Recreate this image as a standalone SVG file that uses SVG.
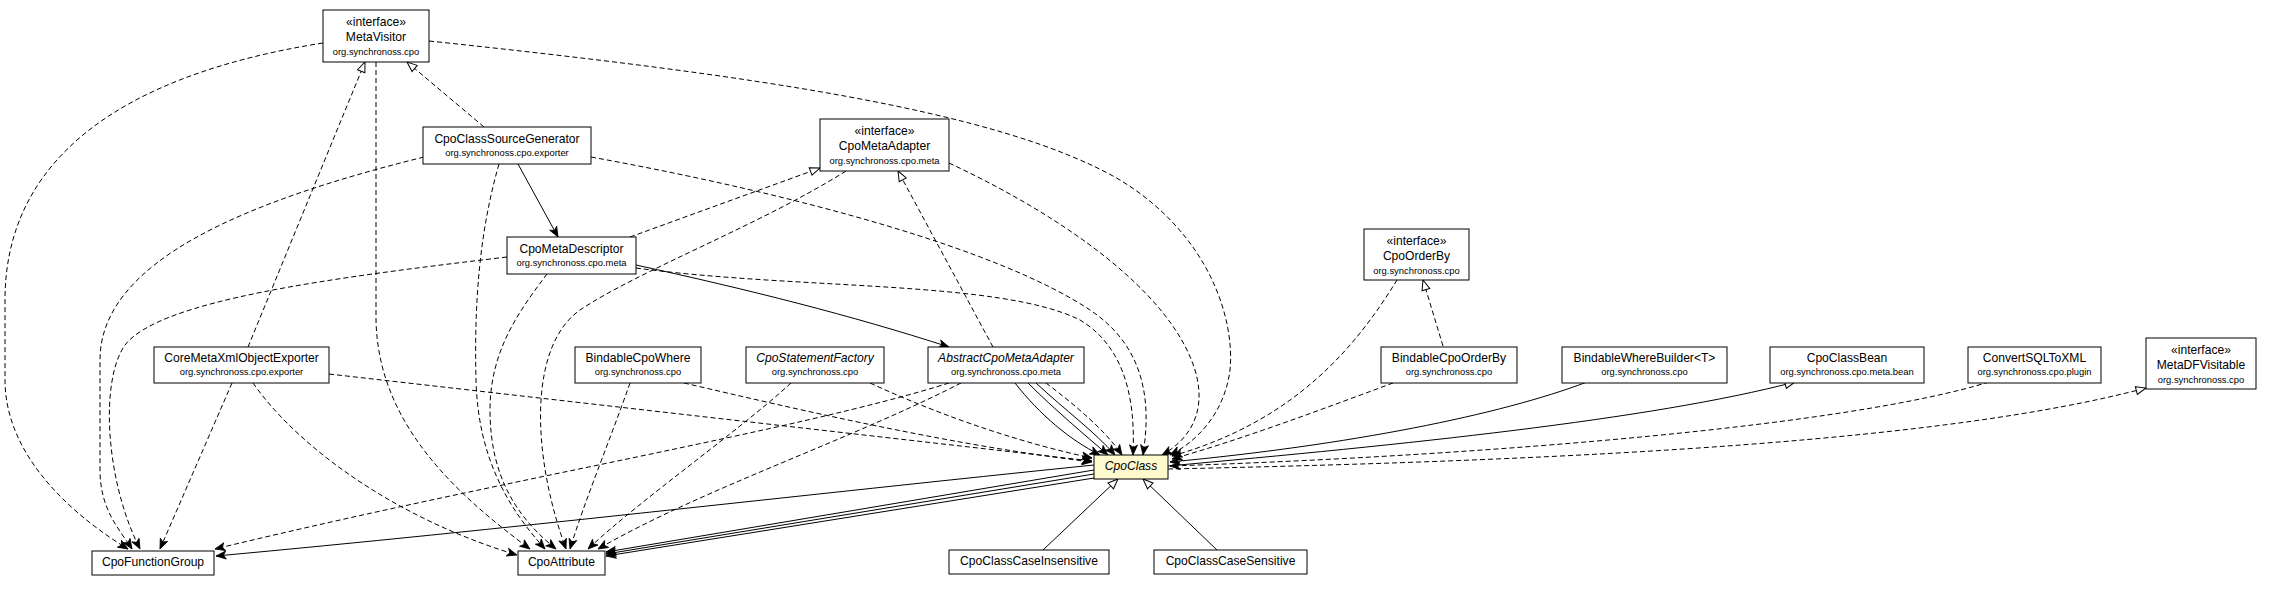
<svg xmlns="http://www.w3.org/2000/svg" width="2272" height="592" viewBox="0 0 2272 592">
<style>
.box{fill:#fff;stroke:#000;stroke-width:1}
.ctx{fill:#fffacd}
text{font-family:"Liberation Sans",Arial,Helvetica,sans-serif;text-anchor:middle;fill:#000}
.n{font-size:12.1px}
.p{font-size:9.4px}
.i{font-style:italic}
.e{fill:none;stroke:#000;stroke-width:1}
.d{stroke-dasharray:5,3}
.v{marker-end:url(#vee)}
.t{marker-end:url(#tri)}
</style>
<defs>
<marker id="vee" markerUnits="userSpaceOnUse" markerWidth="12" markerHeight="10" refX="10" refY="4" orient="auto" overflow="visible">
<path d="M0,0 L10,4 L0,8 L2.5,4 Z" fill="#000" stroke="#000" stroke-width="0.8" stroke-dasharray="none"/>
</marker>
<marker id="tri" markerUnits="userSpaceOnUse" markerWidth="12" markerHeight="10" refX="10" refY="4" orient="auto" overflow="visible">
<path d="M0,0 L10,4 L0,8 Z" fill="#fff" stroke="#000" stroke-width="1" stroke-dasharray="none"/>
</marker>
</defs>
<rect width="2272" height="592" fill="#fff"/>
<g id="edges">
<!-- MetaVisitor dependencies -->
<path class="e d v" d="M323,43 C120,75 5,160 5,300 L5,380 C5,460 80,520 128,549"/>
<path class="e d v" d="M376,62 L376,320 C378,420 450,490 530,549"/>
<path class="e d v" d="M429,41 C750,75 1000,110 1120,180 C1210,235 1235,320 1230,370 C1225,410 1200,440 1170,455"/>
<!-- CpoClassSourceGenerator -->
<path class="e d t" d="M484,127 L407,62"/>
<path class="e v" d="M518,164 L558,237"/>
<path class="e d v" d="M424,157 C250,200 100,260 100,360 L100,470 C100,510 120,530 132,549"/>
<path class="e d v" d="M499,164 C480,230 474,300 476,380 C478,460 510,510 545,549"/>
<path class="e d v" d="M591,157 C800,195 1000,250 1090,310 C1150,350 1150,410 1143,455"/>
<!-- CpoMetaDescriptor -->
<path class="e d t" d="M630,237 L820,168"/>
<path class="e v" d="M636,265 C750,290 850,315 949,347"/>
<path class="e d v" d="M507,257 C330,278 160,300 125,345 C100,380 105,480 140,549"/>
<path class="e d v" d="M547,274 C520,310 490,350 490,410 C490,480 520,520 556,549"/>
<path class="e d v" d="M636,268 C800,290 1000,280 1080,320 C1130,350 1135,410 1133,455"/>
<!-- CpoMetaAdapter -->
<path class="e d v" d="M846,171 C760,225 640,270 580,310 C530,345 530,450 566,549"/>
<path class="e d v" d="M949,163 C1060,215 1170,290 1195,370 C1210,420 1180,445 1162,455"/>
<!-- CoreMetaXmlObjectExporter -->
<path class="e d t" d="M248,347 L365,62"/>
<path class="e d v" d="M232,383 L160,549"/>
<path class="e d v" d="M253,383 C300,450 400,520 517,555"/>
<path class="e d v" d="M329,374 L1092,461"/>
<!-- BindableCpoWhere -->
<path class="e d v" d="M630,383 C610,440 585,500 570,549"/>
<path class="e d v" d="M684,383 C800,410 950,445 1092,462"/>
<!-- CpoStatementFactory -->
<path class="e d v" d="M791,383 C740,430 640,500 588,549"/>
<path class="e d v" d="M870,383 C950,420 1030,445 1092,458"/>
<!-- AbstractCpoMetaAdapter -->
<path class="e d t" d="M993,347 L898,171"/>
<path class="e v" d="M1015,383 C1040,415 1070,440 1100,455"/>
<path class="e v" d="M1028,383 C1055,410 1085,435 1108,455"/>
<path class="e v" d="M1036,383 C1065,410 1095,432 1115,455"/>
<path class="e d v" d="M1046,383 C1075,405 1105,430 1122,455"/>
<path class="e d v" d="M949,383 C800,430 500,480 215,549"/>
<path class="e d v" d="M961,383 C850,440 700,490 598,549"/>
<!-- CpoClass outgoing -->
<path class="e v" d="M1094,465 C800,495 500,530 216,556"/>
<path class="e v" d="M1094,470 L606,552"/>
<path class="e v" d="M1094,474 L606,554"/>
<path class="e v" d="M1094,478 L606,556"/>
<path class="e t" d="M1168,466 C1400,445 1650,420 1795,382"/>
<path class="e d t" d="M1168,469 C1600,460 1950,440 2146,388"/>
<!-- subclasses -->
<path class="e t" d="M1043,550 L1118,479"/>
<path class="e t" d="M1217,550 L1143,479"/>
<!-- right side -->
<path class="e d v" d="M1397,280 C1360,340 1300,420 1172,456"/>
<path class="e d t" d="M1443,346 L1423,280"/>
<path class="e d v" d="M1393,383 C1320,410 1240,440 1172,459"/>
<path class="e v" d="M1587,382 C1500,415 1350,445 1170,462"/>
<path class="e d v" d="M1989,382 C1850,425 1500,455 1170,466"/>
</g>
<g id="MetaVisitor">
<rect class="box" x="323" y="10" width="106" height="52"/>
<text class="n" x="376" y="25.5">«interface»</text>
<text class="n" x="376" y="41">MetaVisitor</text>
<text class="p" x="376" y="54.5">org.synchronoss.cpo</text>
</g>
<g id="CpoClassSourceGenerator">
<rect class="box" x="423" y="127" width="168" height="37"/>
<text class="n" x="507" y="142.5">CpoClassSourceGenerator</text>
<text class="p" x="507" y="155.5">org.synchronoss.cpo.exporter</text>
</g>
<g id="CpoMetaAdapter">
<rect class="box" x="820" y="119" width="129" height="52"/>
<text class="n" x="884.5" y="134.5">«interface»</text>
<text class="n" x="884.5" y="150">CpoMetaAdapter</text>
<text class="p" x="884.5" y="163.5">org.synchronoss.cpo.meta</text>
</g>
<g id="CpoMetaDescriptor">
<rect class="box" x="507" y="237" width="129" height="37"/>
<text class="n" x="571.5" y="252.5">CpoMetaDescriptor</text>
<text class="p" x="571.5" y="265.5">org.synchronoss.cpo.meta</text>
</g>
<g id="CpoOrderBy">
<rect class="box" x="1364" y="229" width="105" height="51"/>
<text class="n" x="1416.5" y="244.5">«interface»</text>
<text class="n" x="1416.5" y="260">CpoOrderBy</text>
<text class="p" x="1416.5" y="273.5">org.synchronoss.cpo</text>
</g>
<g id="CoreMetaXmlObjectExporter">
<rect class="box" x="154" y="347" width="175" height="36"/>
<text class="n" x="241.5" y="362">CoreMetaXmlObjectExporter</text>
<text class="p" x="241.5" y="375">org.synchronoss.cpo.exporter</text>
</g>
<g id="BindableCpoWhere">
<rect class="box" x="575" y="347" width="126" height="36"/>
<text class="n" x="638" y="362">BindableCpoWhere</text>
<text class="p" x="638" y="375">org.synchronoss.cpo</text>
</g>
<g id="CpoStatementFactory">
<rect class="box" x="746" y="347" width="138" height="36"/>
<text class="n i" x="815" y="362">CpoStatementFactory</text>
<text class="p" x="815" y="375">org.synchronoss.cpo</text>
</g>
<g id="AbstractCpoMetaAdapter">
<rect class="box" x="928" y="347" width="156" height="36"/>
<text class="n i" x="1006" y="362">AbstractCpoMetaAdapter</text>
<text class="p" x="1006" y="375">org.synchronoss.cpo.meta</text>
</g>
<g id="BindableCpoOrderBy">
<rect class="box" x="1381" y="347" width="136" height="36"/>
<text class="n" x="1449" y="362">BindableCpoOrderBy</text>
<text class="p" x="1449" y="375">org.synchronoss.cpo</text>
</g>
<g id="BindableWhereBuilder">
<rect class="box" x="1562" y="347" width="165" height="36"/>
<text class="n" x="1644.5" y="362">BindableWhereBuilder&lt;T&gt;</text>
<text class="p" x="1644.5" y="375">org.synchronoss.cpo</text>
</g>
<g id="CpoClassBean">
<rect class="box" x="1770" y="347" width="154" height="36"/>
<text class="n" x="1847" y="362">CpoClassBean</text>
<text class="p" x="1847" y="375">org.synchronoss.cpo.meta.bean</text>
</g>
<g id="ConvertSQLToXML">
<rect class="box" x="1968" y="347" width="133" height="36"/>
<text class="n" x="2034.5" y="362">ConvertSQLToXML</text>
<text class="p" x="2034.5" y="375">org.synchronoss.cpo.plugin</text>
</g>
<g id="MetaDFVisitable">
<rect class="box" x="2146" y="338" width="110" height="51"/>
<text class="n" x="2201" y="353.5">«interface»</text>
<text class="n" x="2201" y="369">MetaDFVisitable</text>
<text class="p" x="2201" y="382.5">org.synchronoss.cpo</text>
</g>
<g id="CpoClass">
<rect class="box ctx" x="1094" y="455" width="74" height="24"/>
<text class="n i" x="1131" y="470">CpoClass</text>
</g>
<g id="CpoFunctionGroup">
<rect class="box" x="92" y="551" width="122" height="24"/>
<text class="n" x="153" y="566">CpoFunctionGroup</text>
</g>
<g id="CpoAttribute">
<rect class="box" x="518" y="551" width="87" height="24"/>
<text class="n" x="561.5" y="566">CpoAttribute</text>
</g>
<g id="CpoClassCaseInsensitive">
<rect class="box" x="949" y="550" width="160" height="24"/>
<text class="n" x="1029" y="565">CpoClassCaseInsensitive</text>
</g>
<g id="CpoClassCaseSensitive">
<rect class="box" x="1154" y="550" width="153" height="24"/>
<text class="n" x="1230.5" y="565">CpoClassCaseSensitive</text>
</g>
</svg>
